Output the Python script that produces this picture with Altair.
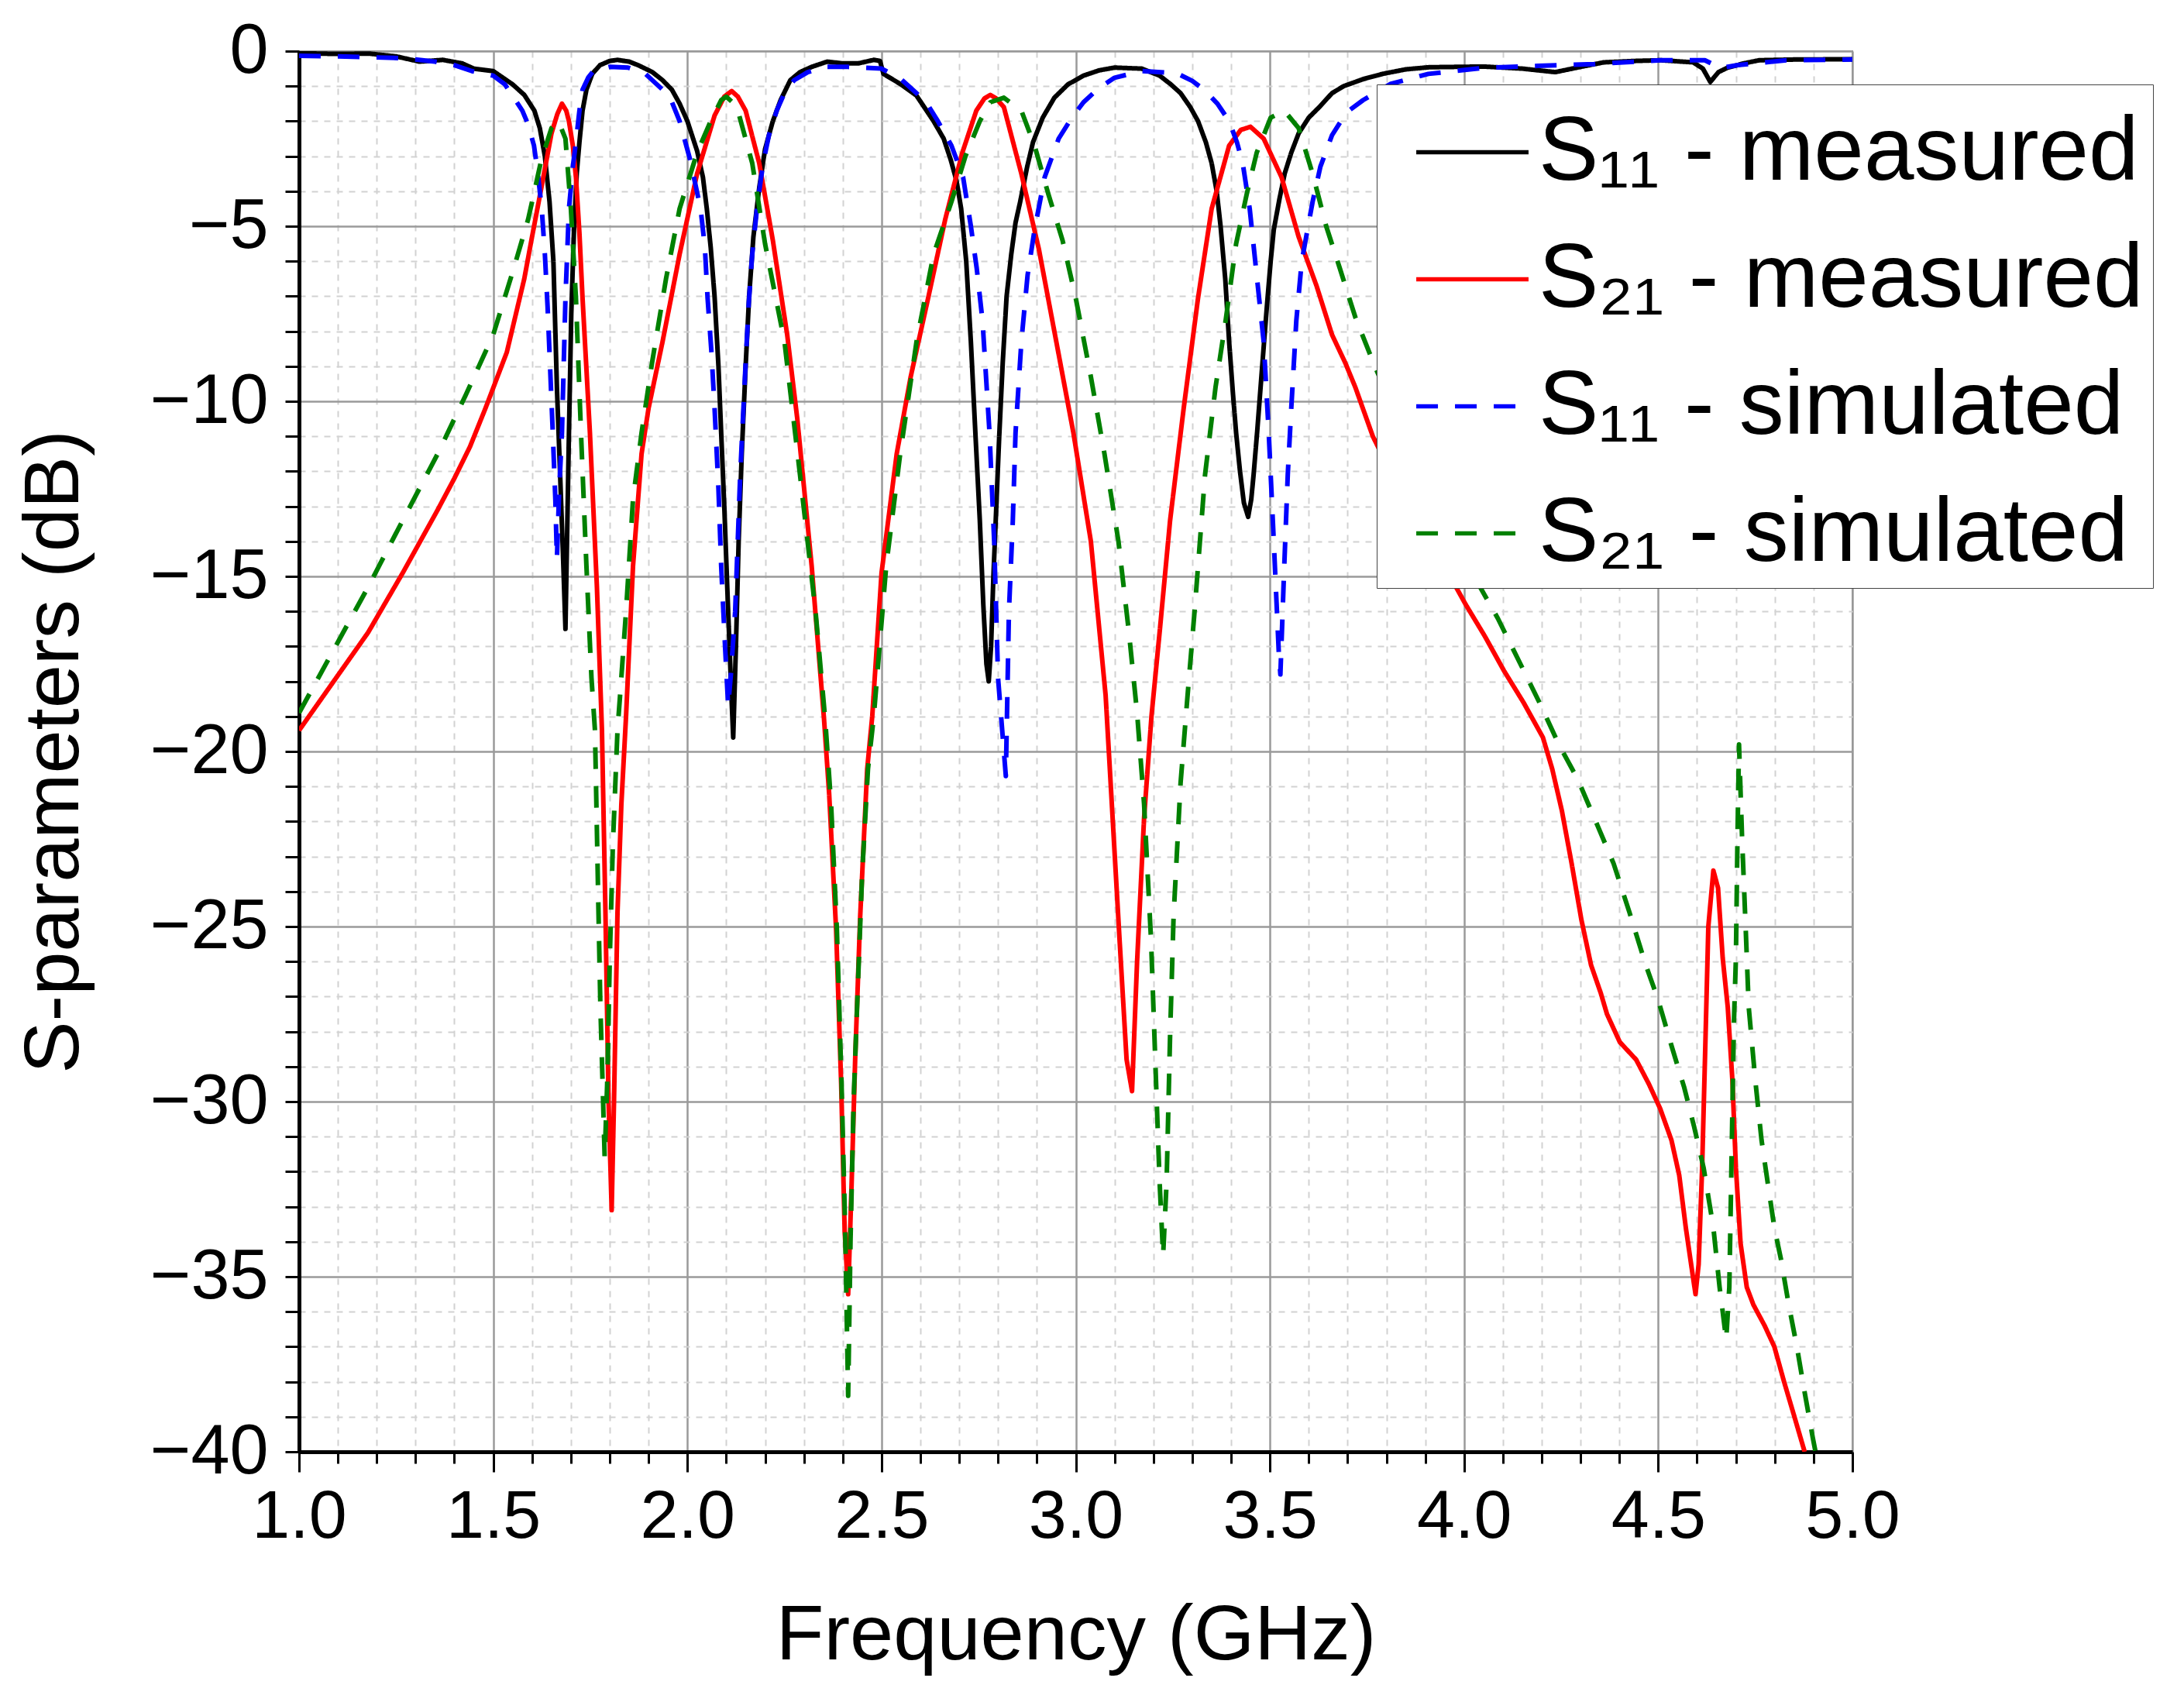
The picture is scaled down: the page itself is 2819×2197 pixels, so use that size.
import altair as alt
import pandas as pd

# ---------------- data ----------------
f_s11m = [1.00, 1.10, 1.18, 1.25, 1.31, 1.37, 1.42, 1.45, 1.50, 1.55, 1.58, 1.606, 1.62, 1.633, 1.645, 1.655,
          1.664, 1.672, 1.680, 1.686, 1.690, 1.695, 1.701, 1.708, 1.715, 1.722, 1.730, 1.740, 1.755, 1.775,
          1.80, 1.82, 1.85, 1.873, 1.91, 1.936, 1.96, 1.98, 2.00, 2.025, 2.04, 2.05, 2.06, 2.07, 2.08, 2.087,
          2.095, 2.105, 2.113, 2.118, 2.125, 2.132, 2.14, 2.15, 2.159, 2.17, 2.185, 2.20, 2.22, 2.24, 2.265,
          2.29, 2.32, 2.36, 2.40, 2.44, 2.48, 2.496, 2.505, 2.55, 2.59, 2.634, 2.66, 2.678, 2.693, 2.705,
          2.718, 2.73, 2.742, 2.753, 2.762, 2.770, 2.776, 2.782, 2.788, 2.794, 2.803, 2.812, 2.822, 2.834,
          2.845, 2.857, 2.875, 2.89, 2.915, 2.945, 2.98, 3.02, 3.06, 3.10, 3.17, 3.216, 3.245, 3.27, 3.295,
          3.315, 3.335, 3.35, 3.363, 3.373, 3.385, 3.395, 3.405, 3.413, 3.423, 3.433, 3.444, 3.452, 3.458,
          3.467, 3.476, 3.485, 3.494, 3.502, 3.51, 3.525, 3.538, 3.555, 3.574, 3.60, 3.627, 3.66, 3.69, 3.74,
          3.79, 3.85, 3.91, 4.05, 4.15, 4.235, 4.30, 4.36, 4.44, 4.506, 4.59, 4.615, 4.634, 4.655, 4.677,
          4.72, 4.76, 4.85, 5.00]
db_s11m = [-0.06, -0.08, -0.07, -0.15, -0.30, -0.25, -0.35, -0.50, -0.57, -0.95, -1.25, -1.7, -2.2, -3.0, -4.3, -6.0,
           -9.6, -12.0, -14.5, -16.5, -14.0, -10.9, -7.5, -5.1, -3.5, -2.6, -1.7, -1.1, -0.65, -0.4,
           -0.28, -0.25, -0.3, -0.4, -0.6, -0.83, -1.1, -1.5, -2.0, -2.85, -3.6, -4.5, -5.6, -7.0, -9.0, -10.9,
           -13.0, -16.0, -18.3, -19.6, -17.0, -14.0, -11.5, -9.0, -7.0, -5.3, -3.9, -2.8, -2.0, -1.4, -0.83,
           -0.6, -0.45, -0.3, -0.35, -0.35, -0.25, -0.28, -0.65, -0.95, -1.27, -2.0, -2.5, -3.1, -3.7, -4.5,
           -6.0, -8.3, -11.0, -13.4, -15.8, -17.5, -18.0, -17.0, -15.0, -13.4, -11.0, -8.9, -7.0, -5.8,
           -4.9, -4.3, -3.3, -2.6, -1.9, -1.33, -0.95, -0.7, -0.55, -0.47, -0.5, -0.7, -0.95, -1.2, -1.6,
           -2.0, -2.6, -3.2, -4.0, -5.0, -6.5, -8.3, -9.8, -10.9, -12.0, -12.9, -13.3, -12.8, -12.1,
           -10.9, -9.6, -8.3, -7.05, -6.0, -5.1, -4.2, -3.5, -2.9, -2.35, -1.9, -1.6, -1.2, -1.0, -0.8,
           -0.65, -0.52, -0.46, -0.44, -0.5, -0.6, -0.45, -0.32, -0.28, -0.26, -0.32, -0.5, -0.88, -0.6, -0.48,
           -0.35, -0.26, -0.24, -0.23]

f_s21m = [1.00, 1.089, 1.178, 1.267, 1.357, 1.40, 1.44, 1.48, 1.535, 1.58, 1.60, 1.624, 1.65, 1.665, 1.677,
          1.688, 1.695, 1.705, 1.713, 1.722, 1.73, 1.749, 1.767, 1.78, 1.789, 1.797, 1.805, 1.811, 1.82, 1.83,
          1.842, 1.86, 1.882, 1.90, 1.936, 1.98, 2.025, 2.07, 2.095, 2.114, 2.13, 2.15, 2.185, 2.22, 2.257,
          2.283, 2.32, 2.352, 2.365, 2.383, 2.396, 2.405, 2.414, 2.423, 2.432, 2.445, 2.463, 2.476, 2.50,
          2.539, 2.575, 2.62, 2.664, 2.708, 2.744, 2.765, 2.78, 2.795, 2.815, 2.86, 2.905, 2.95, 2.994, 3.039,
          3.077, 3.095, 3.113, 3.131, 3.145, 3.158, 3.176, 3.195, 3.216, 3.243, 3.278, 3.315, 3.35, 3.395,
          3.425, 3.45, 3.484, 3.53, 3.574, 3.62, 3.66, 3.694, 3.72, 3.765, 3.85, 3.92, 3.979, 4.004, 4.053,
          4.103, 4.153, 4.203, 4.227, 4.252, 4.277, 4.302, 4.327, 4.352, 4.368, 4.401, 4.443, 4.476, 4.505,
          4.534, 4.554, 4.571, 4.588, 4.596, 4.604, 4.613, 4.621, 4.629, 4.642, 4.654, 4.666, 4.679, 4.691,
          4.70, 4.712, 4.728, 4.745, 4.774, 4.799, 4.824, 4.848, 4.877]
db_s21m = [-19.4, -18.0, -16.6, -14.9, -13.1, -12.2, -11.3, -10.2, -8.6, -6.5, -5.3, -3.9, -2.35, -1.8, -1.5,
           -1.7, -2.0, -2.7, -3.6, -5.2, -7.05, -10.9, -15.3, -19.4, -24.6, -30.0, -33.1, -30.0, -24.6, -21.5,
           -19.0, -14.7, -11.5, -10.2, -8.3, -5.8, -3.5, -1.84, -1.3, -1.14, -1.3, -1.7, -3.2, -5.4, -8.1,
           -10.5, -14.7, -19.1, -21.2, -25.1, -29.5, -33.7, -35.5, -32.3, -28.8, -24.7, -20.5, -19.0, -14.9,
           -11.5, -9.3, -7.05, -4.8, -2.9, -1.7, -1.35, -1.25, -1.35, -1.6, -3.5, -5.65, -8.3, -10.9, -14.0,
           -18.4, -21.9, -25.4, -28.8, -29.7, -26.0, -21.9, -19.0, -16.6, -13.4, -10.2, -7.05, -4.5, -2.7,
           -2.25, -2.16, -2.5, -3.6, -5.3, -6.7, -8.1, -8.9, -9.6, -11.0, -12.9, -14.3, -15.3, -15.8, -16.7,
           -17.7, -18.6, -19.6, -20.5, -21.7, -23.2, -24.8, -26.1, -26.9, -27.5, -28.3, -28.8, -29.5, -30.2,
           -31.1, -32.1, -33.6, -34.9, -35.5, -34.65, -31.9, -28.5, -25.0, -23.4, -23.9, -25.9, -27.3, -29.4,
           -31.9, -34.05, -35.3, -35.8, -36.4, -37.0, -38.0, -38.9, -40.0]

f_s11s = [1.00, 1.10, 1.267, 1.35, 1.40, 1.445, 1.50, 1.53, 1.553, 1.575, 1.59, 1.605, 1.615, 1.625, 1.633,
          1.640, 1.646, 1.653, 1.660, 1.664, 1.670, 1.677, 1.686, 1.695, 1.705, 1.713, 1.722, 1.73, 1.745,
          1.758, 1.80, 1.847, 1.89, 1.936, 1.96, 1.98, 2.007, 2.034, 2.045, 2.052, 2.062, 2.07, 2.08, 2.087,
          2.097, 2.105, 2.112, 2.123, 2.136, 2.15, 2.158, 2.167, 2.18, 2.195, 2.21, 2.23, 2.25, 2.275, 2.31,
          2.355, 2.414, 2.50, 2.55, 2.59, 2.62, 2.645, 2.68, 2.71, 2.73, 2.745, 2.76, 2.778, 2.79, 2.80, 2.82,
          2.828, 2.838, 2.845, 2.86, 2.876, 2.894, 2.92, 2.956, 2.99, 3.02, 3.06, 3.10, 3.17, 3.26, 3.30,
          3.33, 3.365, 3.395, 3.415, 3.43, 3.448, 3.466, 3.484, 3.497, 3.51, 3.523, 3.527, 3.537, 3.546,
          3.555, 3.568, 3.582, 3.61, 3.63, 3.66, 3.697, 3.74, 3.81, 3.908, 4.05, 4.19, 4.335, 4.506, 4.62,
          4.66, 4.705, 4.83, 5.00]
db_s11s = [-0.13, -0.15, -0.2, -0.3, -0.4, -0.57, -0.7, -0.95, -1.33, -1.7, -2.1, -2.7, -3.5, -4.5, -5.8,
           -7.3, -8.9, -10.8, -12.8, -14.5, -12.5, -10.9, -7.05, -4.5, -3.3, -2.6, -1.7, -1.1, -0.75,
           -0.57, -0.45, -0.47, -0.63, -1.1, -1.45, -2.0, -3.1, -4.5, -5.6, -7.05, -8.6, -10.2, -12.5, -14.7,
           -17.0, -18.7, -17.8, -16.0, -12.1, -8.9, -7.2, -5.8, -4.4, -3.2, -2.4, -1.7, -1.2, -0.83, -0.6,
           -0.45, -0.45, -0.5, -0.8, -1.2, -1.55, -2.0, -2.7, -3.6, -5.0, -6.2, -7.7, -10.9, -14.0, -17.9, -20.7,
           -16.0, -13.4, -10.9, -8.3, -6.4, -5.1, -3.6, -2.5, -1.9, -1.46, -1.05, -0.76, -0.57, -0.63, -0.85,
           -1.1, -1.5, -2.0, -2.6, -3.2, -4.5, -6.4, -8.3, -10.9, -14.0, -17.2, -17.8, -14.7, -12.1,
           -10.2, -7.7, -6.0, -4.3, -3.3, -2.4, -1.75, -1.4, -0.94, -0.65, -0.48, -0.42, -0.37, -0.26, -0.26,
           -0.48, -0.4, -0.26, -0.24]

f_s21s = [1.00, 1.089, 1.178, 1.267, 1.357, 1.428, 1.50, 1.553, 1.59, 1.624, 1.65, 1.668, 1.686, 1.70, 1.713,
          1.726, 1.74, 1.753, 1.762, 1.77, 1.776, 1.783, 1.787, 1.794, 1.80, 1.808, 1.82, 1.826, 1.842, 1.86,
          1.882, 1.909, 1.945, 1.98, 2.025, 2.06, 2.087, 2.10, 2.115, 2.13, 2.167, 2.20, 2.25, 2.29, 2.33,
          2.355, 2.37, 2.385, 2.397, 2.406, 2.414, 2.42, 2.428, 2.438, 2.45, 2.465, 2.48, 2.512, 2.548, 2.59,
          2.634, 2.68, 2.716, 2.753, 2.78, 2.815, 2.86, 2.894, 2.93, 2.966, 3.0, 3.039, 3.074, 3.11, 3.137,
          3.158, 3.176, 3.194, 3.207, 3.216, 3.225, 3.234, 3.243, 3.252, 3.27, 3.288, 3.306, 3.333, 3.36,
          3.386, 3.413, 3.44, 3.466, 3.502, 3.537, 3.574, 3.61, 3.645, 3.68, 3.72, 3.77, 3.85, 3.95, 4.041,
          4.087, 4.145, 4.194, 4.244, 4.293, 4.343, 4.385, 4.426, 4.468, 4.50, 4.534, 4.567, 4.592, 4.617,
          4.642, 4.658, 4.675, 4.683, 4.687, 4.691, 4.695, 4.70, 4.704, 4.708, 4.716, 4.725, 4.733, 4.75,
          4.766, 4.783, 4.799, 4.816, 4.836, 4.857, 4.877, 4.898, 4.905]
db_s21s = [-18.9, -17.1, -15.3, -13.4, -11.5, -9.85, -8.1, -6.2, -4.8, -3.1, -2.2, -2.0, -2.5, -4.5, -7.05,
           -10.9, -14.7, -17.9, -19.4, -24.0, -27.3, -30.0, -31.6, -29.3, -26.0, -22.7, -19.4, -18.5, -16.0, -12.8,
           -10.9, -8.9, -6.5, -4.5, -2.9, -2.0, -1.4, -1.3, -1.45, -1.7, -3.2, -5.5, -8.3, -12.1, -16.0,
           -19.1, -21.5, -25.1, -29.5, -33.5, -38.4, -34.0, -30.0, -27.0, -23.5, -20.5, -19.0, -14.7, -11.5, -8.3,
           -5.8, -4.3, -3.0, -2.0, -1.46, -1.33, -1.7, -2.7, -4.1, -5.4, -7.05, -9.3, -11.5, -14.0, -16.6,
           -18.9, -21.5, -25.4, -29.5, -32.3, -34.4, -32.3, -28.1, -24.7, -20.9, -18.4, -16.0, -12.1, -9.6,
           -7.7, -5.5, -4.1, -2.9, -1.9, -1.7, -2.2, -3.5, -5.0, -6.2, -7.6, -9.0, -11.0, -13.3, -15.3,
           -16.2, -17.5, -18.6, -19.8, -20.8, -22.1, -23.2, -24.6, -26.1, -27.1, -28.4, -29.6, -30.7, -31.9,
           -33.6, -35.3, -36.8, -35.3, -32.8, -30.2, -27.7, -25.9, -22.5, -19.8, -22.5, -25.0, -27.3, -29.4,
           -31.1, -32.4, -33.6, -34.5, -35.8, -37.0, -38.3, -39.6, -40.0]

series_names = ["S\u2081\u2081 - measured", "S\u2082\u2081 - measured",
                "S\u2081\u2081 - simulated", "S\u2082\u2081 - simulated"]
series_colors = ["#000000", "#ff0000", "#0000ff", "#008000"]
series_dash = [[1, 0], [1, 0], [28, 22], [28, 22]]
series_width = [6, 6, 6, 6]

x_ticks = [round(1.0 + 0.1 * i, 1) for i in range(41)]
y_ticks = list(range(-40, 1))

rows = []
for name, fs, ds in zip(series_names, [f_s11m, f_s21m, f_s11s, f_s21s],
                        [db_s11m, db_s21m, db_s11s, db_s21s]):
    for f, d in zip(fs, ds):
        rows.append({"series": name, "freq": f, "db": d})
df = pd.DataFrame(rows)

FONT = "Liberation Sans"
x_major = "abs(datum.value*2 - round(datum.value*2)) < 0.001"
y_major = "abs(datum.value/5 - round(datum.value/5)) < 0.001"

x_enc = alt.X("freq:Q", title="Frequency (GHz)",
              scale=alt.Scale(domain=[1, 5], nice=False, zero=False),
              axis=alt.Axis(values=x_ticks,
                            labelExpr="(" + x_major + ") ? format(datum.value, '.1f') : ''",
                            labelFont=FONT, labelFontSize=88, labelColor="black",
                            labelPadding=14, labelFlush=False, labelOverlap=False,
                            titleFont=FONT, titleFontSize=101, titleFontWeight="normal",
                            titleColor="black", titlePadding=59,
                            domainColor="black", domainWidth=5,
                            tickColor="black", tickWidth=3,
                            tickSize={"condition": {"test": x_major, "value": 26}, "value": 15},
                            grid=True,
                            gridColor={"condition": {"test": x_major, "value": "#9a9a9a"}, "value": "#d2d2d2"},
                            gridDash={"condition": {"test": x_major, "value": [1, 0]}, "value": [8, 8]},
                            gridWidth={"condition": {"test": x_major, "value": 2.5}, "value": 2}))

y_enc = alt.Y("db:Q", title="S-parameters (dB)",
              scale=alt.Scale(domain=[-40, 0], nice=False, zero=False),
              axis=alt.Axis(values=y_ticks,
                            labelExpr="(" + y_major + ") ? format(datum.value, 'd') : ''",
                            labelFont=FONT, labelFontSize=90, labelColor="black",
                            labelPadding=22, labelFlush=False, labelOverlap=False,
                            titleFont=FONT, titleFontSize=101, titleFontWeight="normal",
                            titleColor="black", titlePadding=72,
                            domainColor="black", domainWidth=5,
                            tickColor="black", tickWidth=3, tickSize=18,
                            grid=True,
                            gridColor={"condition": {"test": y_major, "value": "#9a9a9a"}, "value": "#d2d2d2"},
                            gridDash={"condition": {"test": y_major, "value": [1, 0]}, "value": [8, 8]},
                            gridWidth={"condition": {"test": y_major, "value": 2.5}, "value": 2}))

color_enc = alt.Color("series:N",
                      scale=alt.Scale(domain=series_names, range=series_colors),
                      legend=alt.Legend(orient="none", legendX=1391, legendY=43, title=None,
                                        labelFont=FONT, labelFontSize=116, labelColor="black",
                                        labelLimit=0, labelOffset=10,
                                        symbolType="stroke", symbolSize=21000, symbolStrokeWidth=5.5,
                                        symbolOffset=36,
                                        rowPadding=30, padding=12,
                                        fillColor="white", strokeColor="#444444",
                                        cornerRadius=0))
dash_enc = alt.StrokeDash("series:N",
                          scale=alt.Scale(domain=series_names, range=series_dash),
                          legend=None)

layers = []
for name, w in zip(series_names, series_width):
    layers.append(
        alt.Chart(df)
        .transform_filter(alt.datum.series == name)
        .mark_line(strokeWidth=w, clip=True, strokeCap="butt", strokeJoin="round")
        .encode(x=x_enc, y=y_enc, color=color_enc, strokeDash=dash_enc)
    )

chart = (
    alt.layer(*layers)
    .properties(width=2005, height=1808,
                padding={"left": 378, "top": 58, "right": 420, "bottom": 300},
                autosize=alt.AutoSizeParams(type="none"),
                background="white")
    .configure_view(stroke="#888888", strokeWidth=2)
)

chart.save("out.html", embed_options={"renderer": "svg", "actions": False})
